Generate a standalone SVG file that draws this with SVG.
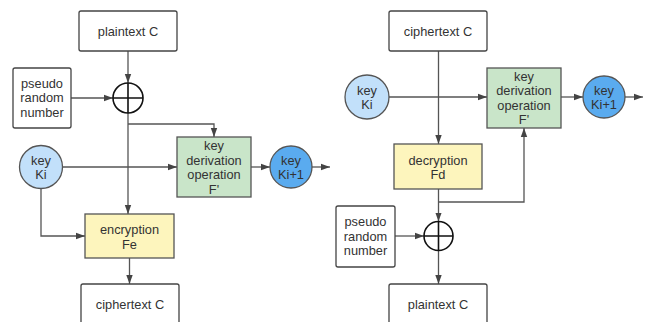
<svg xmlns="http://www.w3.org/2000/svg" width="654" height="322" viewBox="0 0 654 322">
  <style>
    text { font-family: "Liberation Sans", Arial, sans-serif; font-size: 12.8px; fill: #333333; text-anchor: middle; dominant-baseline: central; }
    .box { fill: #ffffff; stroke: #444444; stroke-width: 1.3; }
    .green { fill: #c9e5c9; stroke: #555555; stroke-width: 1.3; }
    .yellow { fill: #fdf5bd; stroke: #555555; stroke-width: 1.3; }
    .light { fill: #c2e0fa; stroke: #555555; stroke-width: 1.3; }
    .dark { fill: #5aabef; stroke: #555555; stroke-width: 1.3; }
    .xor { fill: #ffffff; stroke: #111111; stroke-width: 1.6; }
    .edge { fill: none; stroke: #555555; stroke-width: 1.3; marker-end: url(#arrow); }
  </style>
  <defs>
    <marker id="arrow" markerUnits="userSpaceOnUse" markerWidth="10" markerHeight="8" refX="9" refY="4" orient="auto">
      <path d="M0,0.8 L9,4 L0,7.2 Z" fill="#444444"/>
    </marker>
  </defs>

  <rect width="654" height="322" fill="#ffffff"/>

  <!-- Connectors -->
  <g id="connectors">
    <!-- encryption side -->
    <path class="edge" d="M128 51 V83"/>
    <path class="edge" d="M71 98 H113"/>
    <path class="edge" d="M128 113 V214"/>
    <path class="edge" d="M128 124 H214 V137"/>
    <path class="edge" d="M62.5 167 H177"/>
    <path class="edge" d="M41 188.5 V236 H85"/>
    <path class="edge" d="M251 167 H270"/>
    <path class="edge" d="M312 167 H330"/>
    <path class="edge" d="M129.5 258 V284"/>
    <!-- decryption side -->
    <path class="edge" d="M438.5 51 V144"/>
    <path class="edge" d="M389 97 H487"/>
    <path class="edge" d="M561 97 H583"/>
    <path class="edge" d="M625 97 H643"/>
    <path class="edge" d="M438.5 189 V221.5"/>
    <path class="edge" d="M438.5 202 H524 V128"/>
    <path class="edge" d="M395 236 H424"/>
    <path class="edge" d="M438.5 250.5 V284"/>
  </g>

  <!-- Encryption side -->
  <g id="plaintext-in">
    <rect class="box" x="79" y="11" width="98" height="40" rx="2"/>
    <text x="128" y="31">plaintext C</text>
  </g>
  <g id="prn-enc">
    <rect class="box" x="13" y="68" width="58" height="60" rx="2"/>
    <text x="42" y="83">pseudo</text>
    <text x="42" y="97.5">random</text>
    <text x="42" y="112">number</text>
  </g>
  <g id="xor-enc">
    <circle class="xor" cx="128" cy="98" r="15"/>
    <path class="xor" d="M113 98 H143 M128 83 V113"/>
  </g>
  <g id="key-enc">
    <circle class="light" cx="41" cy="167" r="21.5"/>
    <text x="41" y="160">key</text>
    <text x="41" y="174.5">Ki</text>
  </g>
  <g id="kdf-enc">
    <rect class="green" x="177" y="137" width="74" height="60"/>
    <text x="214" y="145.5">key</text>
    <text x="214" y="160">derivation</text>
    <text x="214" y="174.5">operation</text>
    <text x="214" y="189">F'</text>
  </g>
  <g id="next-key-enc">
    <circle class="dark" cx="291" cy="167" r="21"/>
    <text x="291" y="160">key</text>
    <text x="291" y="174.5">Ki+1</text>
  </g>
  <g id="encryption">
    <rect class="yellow" x="85" y="214" width="89" height="44"/>
    <text x="129.5" y="229">encryption</text>
    <text x="129.5" y="244">Fe</text>
  </g>
  <g id="ciphertext-out">
    <rect class="box" x="81" y="284" width="98" height="44" rx="2"/>
    <text x="130" y="304">ciphertext C</text>
  </g>

  <!-- Decryption side -->
  <g id="ciphertext-in">
    <rect class="box" x="389" y="11" width="98" height="40" rx="2"/>
    <text x="438" y="31">ciphertext C</text>
  </g>
  <g id="key-dec">
    <circle class="light" cx="367" cy="97" r="22"/>
    <text x="367" y="90">key</text>
    <text x="367" y="104.5">Ki</text>
  </g>
  <g id="kdf-dec">
    <rect class="green" x="487" y="68" width="74" height="60"/>
    <text x="524" y="76">key</text>
    <text x="524" y="90.5">derivation</text>
    <text x="524" y="105">operation</text>
    <text x="524" y="119.5">F'</text>
  </g>
  <g id="next-key-dec">
    <circle class="dark" cx="604" cy="97" r="21"/>
    <text x="604" y="90">key</text>
    <text x="604" y="104.5">Ki+1</text>
  </g>
  <g id="decryption">
    <rect class="yellow" x="394" y="144" width="88" height="45"/>
    <text x="438" y="160">decryption</text>
    <text x="438" y="174.5">Fd</text>
  </g>
  <g id="prn-dec">
    <rect class="box" x="336" y="206" width="59" height="61" rx="2"/>
    <text x="365.5" y="221.5">pseudo</text>
    <text x="365.5" y="236">random</text>
    <text x="365.5" y="250.5">number</text>
  </g>
  <g id="xor-dec">
    <circle class="xor" cx="438.5" cy="236" r="14.5"/>
    <path class="xor" d="M424 236 H453 M438.5 221.5 V250.5"/>
  </g>
  <g id="plaintext-out">
    <rect class="box" x="389" y="284" width="98" height="44" rx="2"/>
    <text x="438" y="304">plaintext C</text>
  </g>
</svg>
